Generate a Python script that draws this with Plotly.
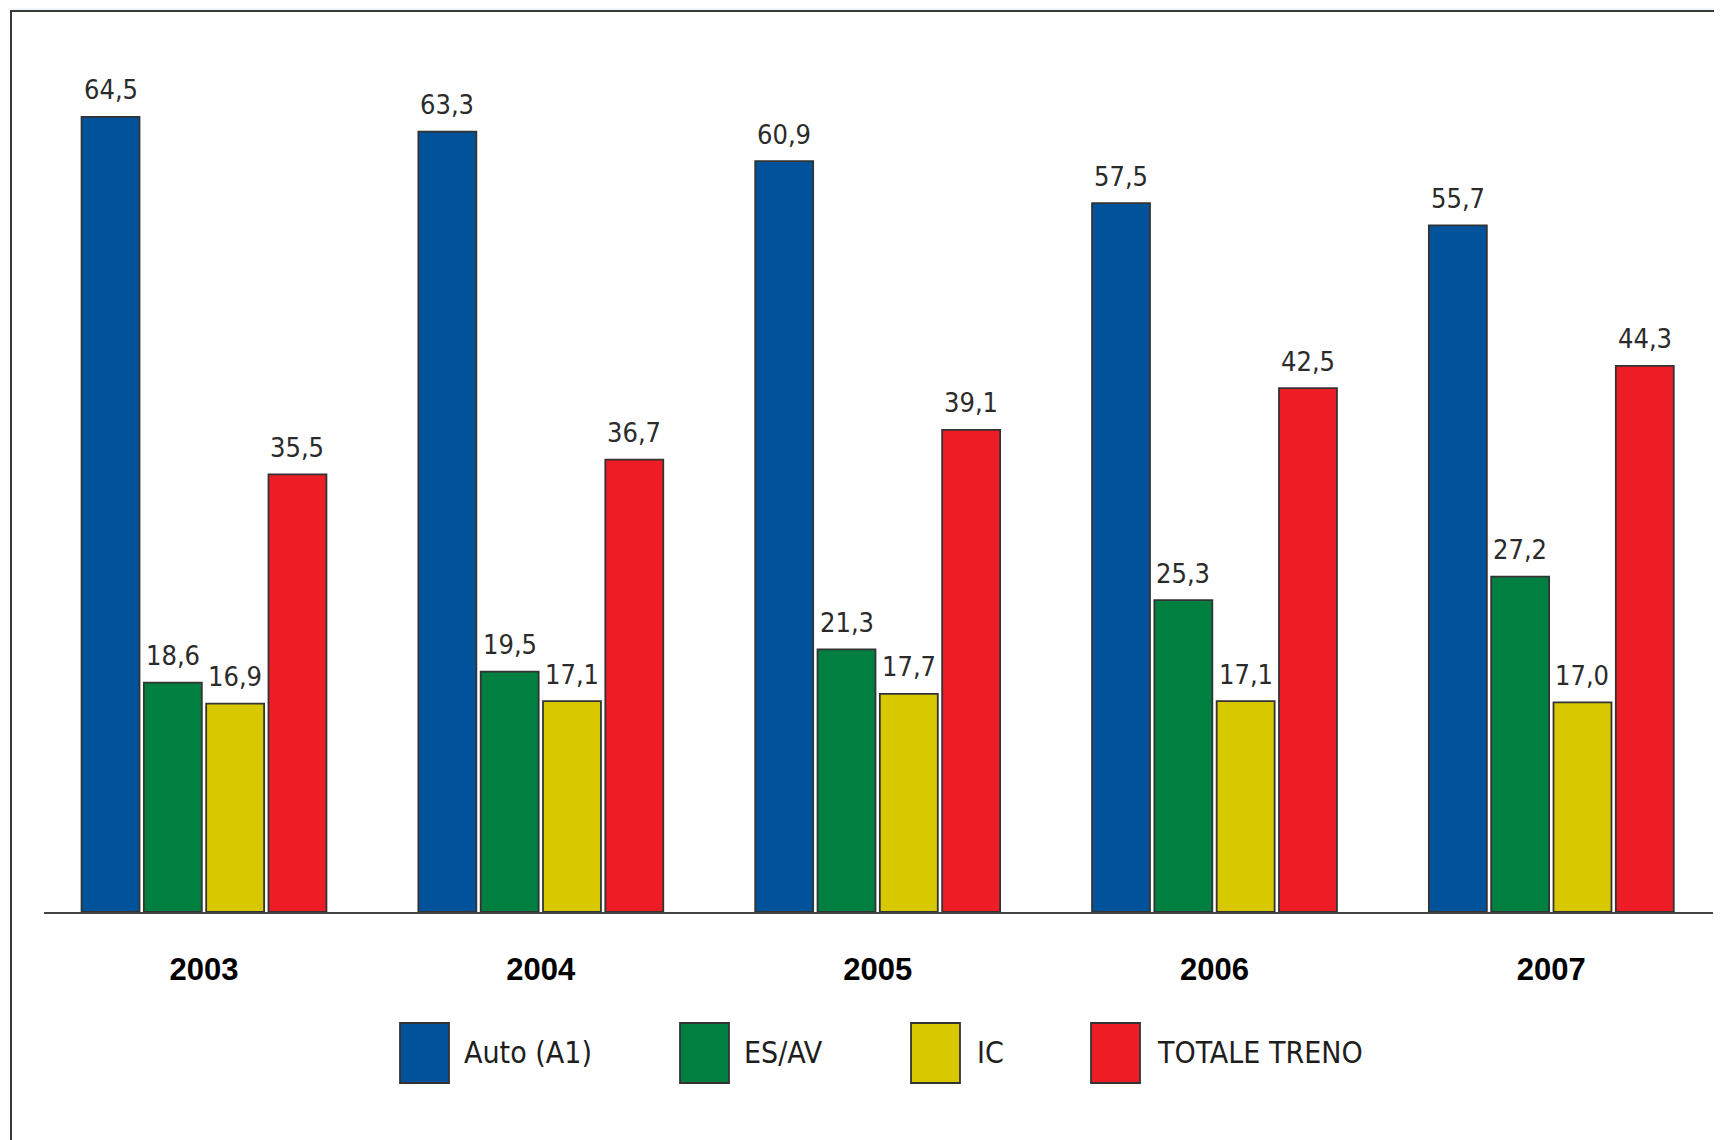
import plotly.graph_objects as go

years = ["2003", "2004", "2005", "2006", "2007"]
auto_a1 = [64.5, 63.3, 60.9, 57.5, 55.7]
es_av = [18.6, 19.5, 21.3, 25.3, 27.2]
ic = [16.9, 17.1, 17.7, 17.1, 17.0]
totale_treno = [35.5, 36.7, 39.1, 42.5, 44.3]

series_names = ["Auto (A1)", "ES/AV", "IC", "TOTALE TRENO"]
series_values = [auto_a1, es_av, ic, totale_treno]
colors = ["#00529a", "#008040", "#d8c800", "#ee1c25"]

# the page body adds an 8px margin, so the figure is 8px smaller than the window
O = 8
W, H = 1714, 1132
L, R, T, B = 36, 9, 41, 228
PW, PH = W - L - R, H - T - B
X_RANGE = [-0.475, 4.48]
BARGAP, GROUPGAP = 0.26, 0.07

narrow = "DejaVu Sans Condensed, Liberation Sans Narrow, Arial Narrow, sans-serif"


def px(x):
    return (x - O - L) / PW


def py(y):
    return (H - B - (y - O)) / PH


def it(v):
    return f"{v:.1f}".replace(".", ",")


fig = go.Figure()
for name, vals, col in zip(series_names, series_values, colors):
    fig.add_trace(go.Bar(
        x=years, y=vals, name=name,
        marker=dict(color=col, line=dict(color="#333333", width=1.8)),
        showlegend=False,
        hovertemplate="%{x}: %{y}<extra>" + name + "</extra>",
    ))

# value labels above each bar (category index on the x axis)
cat_px = PW / (X_RANGE[1] - X_RANGE[0])
slot = cat_px * (1 - BARGAP) / len(series_names)
annotations = []
for i, vals in enumerate(series_values):
    for j, v in enumerate(vals):
        annotations.append(dict(
            x=j, y=v, xref="x", yref="y", text=it(v), showarrow=False,
            xshift=(i - 1.5) * slot, yshift=27, yanchor="middle",
            font=dict(family=narrow, size=27, color="#2b2b2b"),
        ))

shapes = []
shapes.append(dict(type="rect", xref="paper", yref="paper",
                   x0=px(O), x1=px(W + O), y0=py(11), y1=py(O),
                   fillcolor="#f3f7fd", line=dict(width=0), layer="below"))
shapes.append(dict(type="line", xref="paper", yref="paper",
                   x0=px(10), x1=px(W + O + 5), y0=py(11), y1=py(11),
                   line=dict(color="#3a3a3a", width=2)))
shapes.append(dict(type="line", xref="paper", yref="paper",
                   x0=px(11), x1=px(11), y0=py(11), y1=py(H + O + 5),
                   line=dict(color="#3a3a3a", width=2)))

# legend drawn by hand so boxes can be as large as in the original
legend_box_x = [400, 680, 911, 1091]
legend_text_x = [462, 742, 975, 1155]
for name, col, bx, tx in zip(series_names, colors, legend_box_x, legend_text_x):
    shapes.append(dict(type="rect", xref="paper", yref="paper",
                       x0=px(bx), x1=px(bx + 49), y0=py(1083), y1=py(1023),
                       fillcolor=col, line=dict(color="#333333", width=1.8)))
    annotations.append(dict(xref="paper", yref="paper", x=px(tx), y=py(1052),
                            text=name, showarrow=False, xanchor="left",
                            yanchor="middle",
                            font=dict(family=narrow, size=30, color="#1e1e1e")))

fig.update_layout(
    width=W, height=H,
    margin=dict(l=L, r=R, t=T, b=B),
    paper_bgcolor="white", plot_bgcolor="white",
    barmode="group", bargap=BARGAP, bargroupgap=GROUPGAP,
    shapes=shapes, annotations=annotations,
    xaxis=dict(
        type="category", range=X_RANGE,
        showline=True, linecolor="#444444", linewidth=2,
        showgrid=False, zeroline=False, ticks="",
        tickfont=dict(family="Liberation Sans, Arial, sans-serif",
                      size=31, color="#000000", weight="bold"),
        ticklabelstandoff=29,
    ),
    yaxis=dict(range=[0, 70], visible=False),
)

fig.write_html("out.html")
